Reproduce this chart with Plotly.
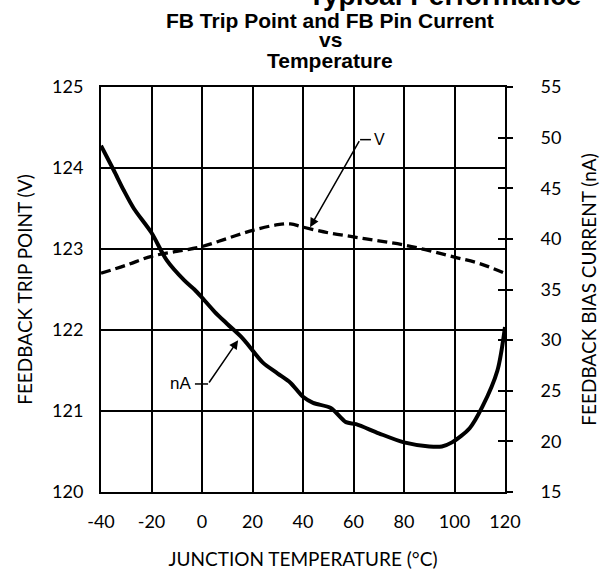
import plotly.graph_objects as go

# Feedback trip point (V) vs junction temperature
temp_v = [-40, -30, -20, -10, 0, 10, 20, 30, 35, 40, 50, 60, 70, 80, 90, 100, 110, 120]
trip_v = [122.70, 122.80, 122.91, 122.97, 123.03, 123.13, 123.23, 123.30, 123.31, 123.27,
          123.20, 123.15, 123.10, 123.05, 122.98, 122.90, 122.82, 122.70]

# Feedback bias current (nA) vs junction temperature
temp_i = [-40, -35, -31, -27, -20, -14, -7, -3, 0, 5, 10, 16, 19, 24, 30, 35, 40, 44, 51, 57,
          61, 70, 80, 90, 95, 99, 106, 111, 117, 120]
bias_na = [49.2, 46.8, 44.8, 43.0, 40.6, 37.9, 35.9, 35.0, 34.2, 32.8, 31.6, 30.2, 29.3, 27.8,
           26.7, 25.8, 24.4, 23.8, 23.3, 21.9, 21.7, 20.8, 19.9, 19.5, 19.5, 19.9, 21.3, 23.4,
           27.0, 31.3]

x_ticks = [-40, -20, 0, 20, 40, 60, 80, 100, 120]
x_ticktext = ["-40", "-20", "0", "20", "40", "60", "80", "100", "120"]
y_ticks = [120, 121, 122, 123, 124, 125]
y2_ticks = [15, 20, 25, 30, 35, 40, 45, 50, 55]

tick_font = dict(family="Lato", size=18, color="black")
title_font = dict(family="Lato", size=19, color="black")
bold_font = "Liberation Sans"

fig = go.Figure()
fig.add_trace(go.Scatter(x=temp_v, y=trip_v, mode="lines", yaxis="y",
                         line=dict(color="black", width=3.3, dash="10px,5px", shape="spline"),
                         showlegend=False))
fig.add_trace(go.Scatter(x=temp_i, y=bias_na, mode="lines", yaxis="y2",
                         line=dict(color="black", width=4, shape="spline", smoothing=0.8),
                         showlegend=False))
fig.add_trace(go.Scatter(x=[None], y=[None], yaxis="y3", showlegend=False, hoverinfo="skip"))

fig.update_layout(
    width=600, height=573,
    margin=dict(l=101, r=95, t=87, b=81, autoexpand=False),
    paper_bgcolor="white", plot_bgcolor="white",
    xaxis=dict(range=[-40, 120], tickvals=x_ticks, ticktext=x_ticktext, showgrid=True,
               gridcolor="black", gridwidth=1.5, automargin=False,
               zeroline=False, showline=True, linecolor="black", linewidth=2, mirror=True,
               ticks="", tickfont=tick_font, ticklabelstandoff=12,
               title=dict(text="JUNCTION TEMPERATURE (°C)", font=title_font, standoff=22)),
    yaxis=dict(range=[120, 125], tickvals=y_ticks, showgrid=True, gridcolor="black", gridwidth=1.5,
               zeroline=False, showline=True, linecolor="black", linewidth=2, mirror=True,
               automargin=False,
               ticks="", tickfont=tick_font, ticklabelstandoff=12,
               title=dict(text="FEEDBACK TRIP POINT (V)", font=title_font, standoff=14)),
    yaxis2=dict(range=[15, 55], tickvals=y2_ticks, overlaying="y", side="right", showgrid=False,
                zeroline=False, ticks="outside", ticklen=7, tickwidth=1.5, tickcolor="black",
                automargin=False,
                tickfont=tick_font, ticklabelstandoff=24,
                title=dict(text="FEEDBACK BIAS CURRENT (nA)", font=title_font, standoff=22)),
    yaxis3=dict(range=[15, 55], tickvals=y2_ticks, overlaying="y", side="right", showgrid=False,
                zeroline=False, ticks="inside", ticklen=7, tickwidth=1.5, tickcolor="black",
                automargin=False, showticklabels=False),
)

# Titles
fig.add_annotation(text="<b>Typical Performance</b>", xref="paper", yref="paper",
                   x=0.507, y=1.227, xanchor="left", yanchor="middle",
                   showarrow=False, font=dict(family=bold_font, size=28, color="black"))
for txt, yy in [("FB Trip Point and FB Pin Current", 1.1635), ("vs", 1.118),
                ("Temperature", 1.0654)]:
    fig.add_annotation(text="<b>" + txt + "</b>", xref="paper", yref="paper",
                       x=0.567, y=yy, xanchor="center", yanchor="middle", showarrow=False,
                       font=dict(family=bold_font, size=21, color="black"))

# V label with arrow
fig.add_annotation(x=42.8, y=123.27, xref="x", yref="y", ax=62.6, ay=124.35, axref="x", ayref="y",
                   showarrow=True, arrowhead=2, arrowsize=1.2, arrowwidth=1.5, arrowcolor="black",
                   text="")
fig.add_shape(type="line", x0=62.6, x1=66.9, y0=124.35, y1=124.35, xref="x", yref="y",
              line=dict(color="black", width=1.5))
fig.add_annotation(x=67.3, y=124.35, xref="x", yref="y", text="V", showarrow=False,
                   xanchor="left", font=dict(family="Liberation Sans", size=16, color="black"))

# nA label with arrow
fig.add_annotation(x=14.3, y=30.0, xref="x", yref="y2", ax=2.4, ay=25.67, axref="x", ayref="y2",
                   showarrow=True, arrowhead=2, arrowsize=1.2, arrowwidth=1.5, arrowcolor="black",
                   text="")
fig.add_shape(type="line", x0=-2.8, x1=2.4, y0=25.67, y1=25.67, xref="x", yref="y2",
              line=dict(color="black", width=1.5))
fig.add_annotation(x=-3.4, y=25.67, xref="x", yref="y2", text="nA", showarrow=False,
                   xanchor="right", font=dict(family="Liberation Sans", size=17, color="black"))

fig.write_html("out.html", config={"displayModeBar": False},
               post_script="document.body.style.margin='0';")
